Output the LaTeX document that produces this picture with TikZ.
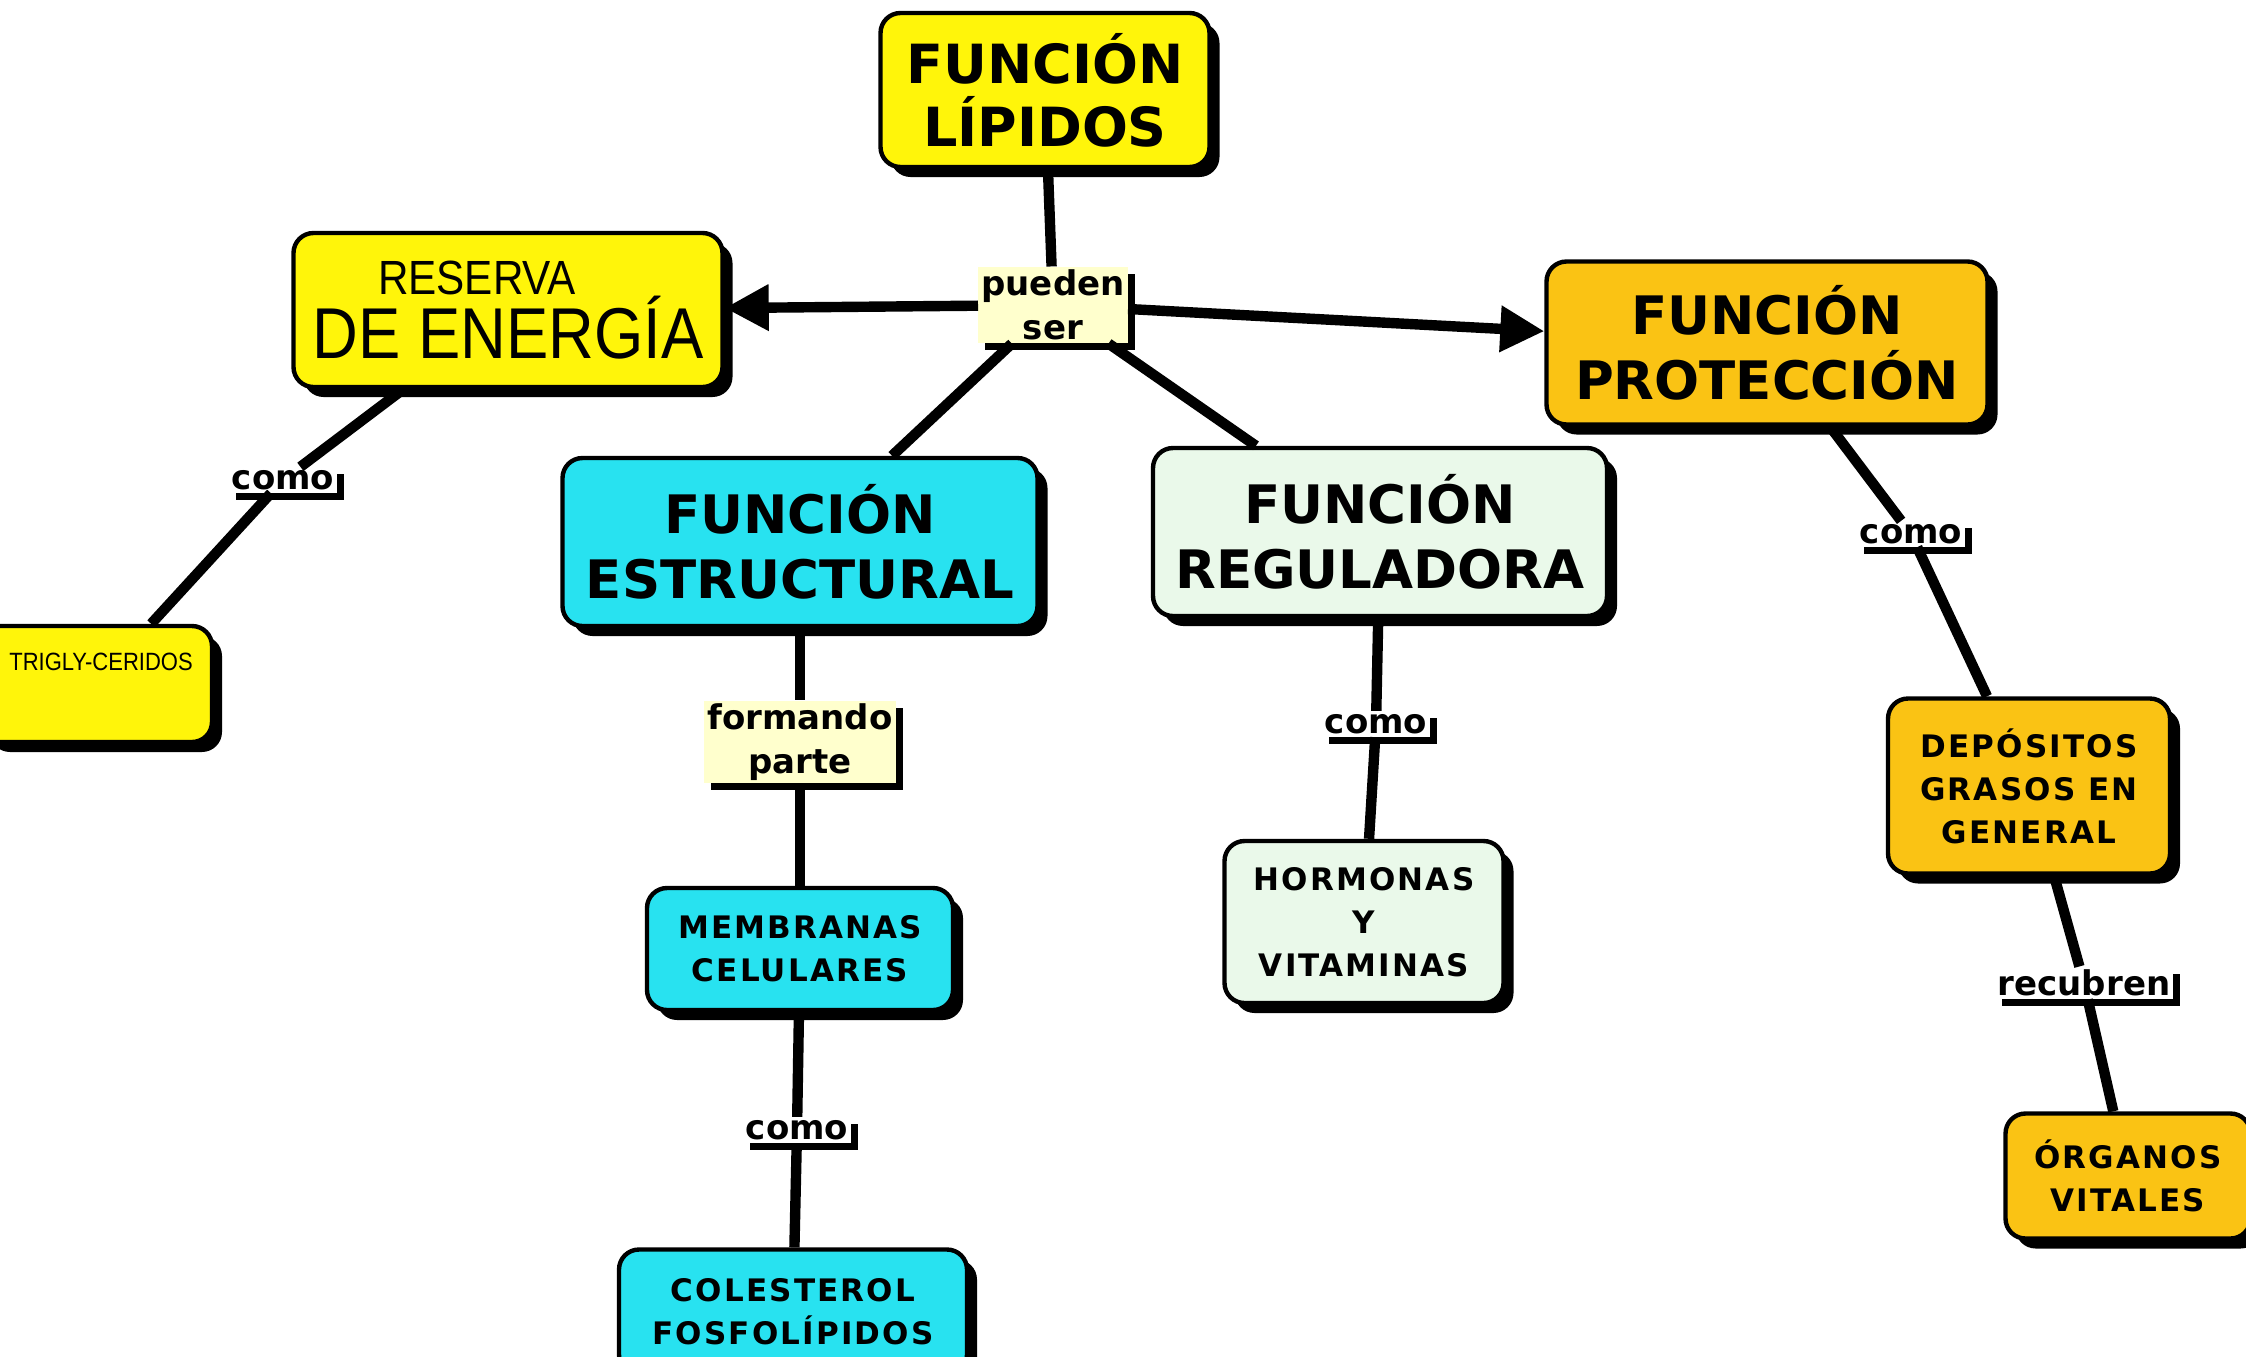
\documentclass[tikz,border=0pt]{standalone}
\usepackage{fontspec}
\setmainfont{DejaVu Sans}
\newfontfamily\narrowfont[FakeStretch=0.88]{Liberation Sans}
\newfontfamily\spacedfont[LetterSpace=7]{DejaVu Sans}
\usetikzlibrary{shadows,arrows.meta}
\definecolor{cYellow}{RGB}{255,245,10}
\definecolor{cOrange}{RGB}{250,195,20}
\definecolor{cCyan}{RGB}{40,226,240}
\definecolor{cGreen}{RGB}{234,249,234}
\definecolor{cLabel}{RGB}{255,255,205}
\begin{document}
\begin{tikzpicture}[x=0.5pt,y=-0.5pt,
  concept/.style={draw=black, line width=2.2pt, rounded corners=10pt, align=center, inner sep=2pt,
     general shadow={fill=black, shadow xshift=5pt, shadow yshift=-5pt}},
  bigtxt/.style={font=\fontsize{26.5}{32.5}\selectfont\bfseries},
  smalltxt/.style={font=\spacedfont\fontsize{15.5}{21.5}\selectfont\bfseries},
  linklabel/.style={fill=white, inner sep=1.5pt, align=center, font=\fontsize{17}{22}\selectfont\bfseries,
     general shadow={fill=black, shadow xshift=3.5pt, shadow yshift=-3.5pt}},
  conn/.style={line width=5.2pt},
  arr/.style={conn, -{Triangle[length=22pt,width=22pt]}}
]
\clip (0,0) rectangle (2246,1356);
\fill[white] (0,0) rectangle (2246,1356);

% concepts
\node[concept, fill=cYellow, font=\fontsize{27}{31.5}\selectfont\bfseries,
      minimum width=164.5pt, minimum height=77pt] (lip) at (1045,90) {FUNCIÓN\\LÍPIDOS};
\node[concept, fill=cYellow, font=\narrowfont\fontsize{36}{32}\selectfont,
      minimum width=214.5pt, minimum height=77pt] (res) at (508,310)
      {{\fontsize{24}{28}\selectfont RESERVA\hspace*{31pt}}\\DE ENERGÍA};
\node[concept, fill=cOrange, bigtxt, minimum width=220.5pt, minimum height=81.5pt] (prot) at (1767,343) {FUNCIÓN\\PROTECCIÓN};
\node[concept, fill=cCyan, bigtxt, minimum width=237.5pt, minimum height=84pt] (estr) at (800,542) {FUNCIÓN\\ESTRUCTURAL};
\node[concept, fill=cGreen, bigtxt, minimum width=227pt, minimum height=84pt] (regul) at (1380,532) {FUNCIÓN\\REGULADORA};
\node[concept, fill=cYellow, minimum width=116pt, minimum height=58pt] (tri) at (96,684) {};
\node[font=\narrowfont\fontsize{12.5}{14}\selectfont, inner sep=0pt] (tritxt) at (101,662) {TRIGLY-CERIDOS};
\node[concept, fill=cCyan, smalltxt, minimum width=153pt, minimum height=61pt] (memb) at (800,949) {MEMBRANAS\\CELULARES};
\node[concept, fill=cCyan, smalltxt, minimum width=174pt, minimum height=62.5pt] (col) at (793,1312) {COLESTEROL\\FOSFOLÍPIDOS};
\node[concept, fill=cGreen, smalltxt, minimum width=139.5pt, minimum height=81pt] (horm) at (1364,922) {HORMONAS\\Y\\VITAMINAS};
\node[concept, fill=cOrange, smalltxt, minimum width=141pt, minimum height=87.5pt] (dep) at (2029,786) {DEPÓSITOS\\GRASOS EN\\GENERAL};
\node[concept, fill=cOrange, smalltxt, minimum width=122.5pt, minimum height=62.5pt] (org) at (2128,1176) {ÓRGANOS\\VITALES};

% linking phrases
\node[linklabel, fill=cLabel] (pue) at (1053,305) {pueden\\ser};
\node[linklabel] (como1) at (283,480) {como};
\node[linklabel, fill=cLabel] (form) at (800,742) {formando\\parte};
\node[linklabel] (como2) at (797,1130) {como};
\node[linklabel] (como3) at (1376,724) {como};
\node[linklabel] (como4) at (1911,534) {como};
\node[linklabel] (rec) at (2084,983) {recubren};

% connectors
\draw[conn] (lip) -- (pue);
\draw[arr] (pue) -- (res);
\draw[arr] (pue) -- (prot);
\draw[conn] (pue) -- (estr);
\draw[conn] (pue) -- (regul);
\draw[conn] (res) -- (como1);
\draw[conn] (como1) -- (tri);
\draw[conn] (estr) -- (form);
\draw[conn] (form) -- (memb);
\draw[conn] (memb) -- (como2);
\draw[conn] (como2) -- (col);
\draw[conn] (regul) -- (como3);
\draw[conn] (como3) -- (horm);
\draw[conn] (prot) -- (como4);
\draw[conn] (como4) -- (dep);
\draw[conn] (dep) -- (rec);
\draw[conn] (rec) -- (org);
\end{tikzpicture}
\end{document}
